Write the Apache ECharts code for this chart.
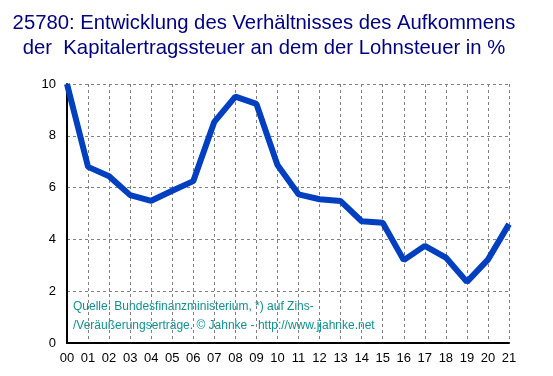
<!DOCTYPE html>
<html>
<head>
<meta charset="utf-8">
<script src="https://cdn.jsdelivr.net/npm/echarts@6/dist/echarts.min.js"></script>
</head>
<body style="margin:0;background:#fff;">
<div id="main" style="width:553px;height:376px;"></div>
<script>
// Jahre (2000-2021)
var years = ['00','01','02','03','04','05','06','07','08','09','10',
             '11','12','13','14','15','16','17','18','19','20','21'];
// Kapitalertragsteuer in % der Lohnsteuer
var ratio = [10.0, 6.8, 6.44, 5.71, 5.49, 5.88, 6.25, 8.54, 9.51, 9.23, 6.87,
             5.74, 5.55, 5.48, 4.7, 4.64, 3.2, 3.75, 3.3, 2.36, 3.22, 4.59];
var titleLines = ['25780: Entwicklung des Verhältnisses des Aufkommens',
                  'der  Kapitalertragssteuer an dem der Lohnsteuer in %'];
var sourceLines = ['Quelle: Bundesfinanzministerium, *) auf Zins-',
                   '/Veräußerungserträge. © Jahnke - http://www.jjahnke.net'];

var myChart = echarts.init(document.getElementById('main'));

var option = {
    backgroundColor: '#fff',
    animation: false,
    textStyle: { fontFamily: 'Liberation Sans, Arial, sans-serif' },
    title: {
        text: titleLines.join('\n'),
        left: 259,
        textAlign: 'center',
        top: 6,
        textStyle: {
            color: '#000080',
            fontSize: 20.3,
            fontWeight: 'normal',
            lineHeight: 25,
            fontFamily: 'Liberation Sans, Arial, sans-serif'
        }
    },
    grid: { left: 67, right: 44, top: 84, bottom: 33 },
    xAxis: {
        type: 'category',
        data: years,
        boundaryGap: false,
        axisLine: { lineStyle: { color: '#000', width: 2 } },
        axisTick: { show: false },
        axisLabel: { color: '#000', fontSize: 13, margin: 9, interval: 0 },
        splitLine: { show: true, lineStyle: { color: '#808080', type: [3, 3], width: 1 } }
    },
    yAxis: {
        type: 'value',
        min: 0,
        max: 10,
        interval: 2,
        axisLine: { show: true, lineStyle: { color: '#000', width: 2 } },
        axisTick: { show: false },
        axisLabel: { color: '#000', fontSize: 13, margin: 11 },
        splitLine: { show: true, lineStyle: { color: '#808080', type: [3, 3], width: 1 } }
    },
    graphic: [{
        type: 'text',
        left: 73,
        top: 297,
        style: {
            text: sourceLines.join('\n'),
            fill: '#109090',
            fontSize: 12,
            lineHeight: 19,
            fontFamily: 'Liberation Sans, Arial, sans-serif'
        }
    }],
    series: [{
        type: 'line',
        data: ratio,
        symbol: 'none',
        lineStyle: { color: '#0040C0', width: 6 }
    }]
};

myChart.setOption(option);
</script>
</body>
</html>
